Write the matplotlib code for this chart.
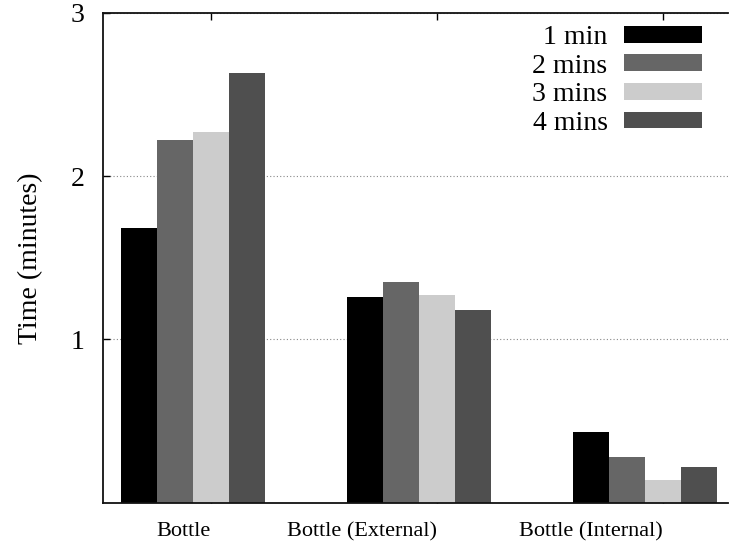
# Grouped bar chart: time per bottle setup for each interval
import numpy as np
import matplotlib
matplotlib.use("Agg")
import matplotlib.pyplot as plt

plt.rcParams['font.family'] = ['Liberation Serif', 'DejaVu Serif']

categories = ["Bottle", "Bottle (External)", "Bottle (Internal)"]
series_names = ["1 min", "2 mins", "3 mins", "4 mins"]
values_1min = [1.68, 1.26, 0.43]
values_2mins = [2.22, 1.35, 0.28]
values_3mins = [2.27, 1.27, 0.14]
values_4mins = [2.63, 1.18, 0.22]
y_ticks = [1, 2, 3]

colors = ['#000000', '#666666', '#cccccc', '#4f4f4f']
series = [values_1min, values_2mins, values_3mins, values_4mins]

fig = plt.figure(figsize=(7.29, 5.48), dpi=100)
ax = fig.add_axes([102.7 / 729, 45.5 / 548, (728 - 102.7) / 729, (502.5 - 13) / 548])

x = np.arange(len(categories))
width = 0.16
offsets = [-0.32, -0.16, 0.0, 0.16]
for vals, off, col, name in zip(series, offsets, colors, series_names):
  ax.bar(x + off, vals, width=width, color=col, label=name, linewidth=0, zorder=2)

ax.set_xlim(-0.479, 2.288)
ax.set_ylim(0, 3)
ax.set_yticks(y_ticks)
ax.set_xticks(x)
ax.set_xticklabels(categories, ha='right', fontsize=16)

ax.set_axisbelow(True)
ax.yaxis.grid(True, linestyle=(0, (1, 2)), color='#888888', linewidth=0.8)
ax.xaxis.grid(False)

ax.tick_params(axis='y', direction='in', length=5, width=1, labelsize=20, pad=13, right=False)
ax.tick_params(axis='x', direction='in', length=5, width=1, top=True, bottom=True, pad=14)

ax.spines['right'].set_visible(False)
for s in ['left', 'top', 'bottom']:
  ax.spines[s].set_linewidth(1.3)
  ax.spines[s].set_color('#111111')

ax.set_ylabel("Time (minutes)", fontsize=20, labelpad=20)

leg = ax.legend(loc='upper right', bbox_to_anchor=(702 / 729, 1 - 25 / 548), bbox_transform=fig.transFigure,
                frameon=False, markerfirst=False, fontsize=20, handlelength=2.8, handleheight=0.55,
                handletextpad=0.6, labelspacing=0.13, borderpad=0, borderaxespad=0)

fig.savefig("out.png", dpi=100)
